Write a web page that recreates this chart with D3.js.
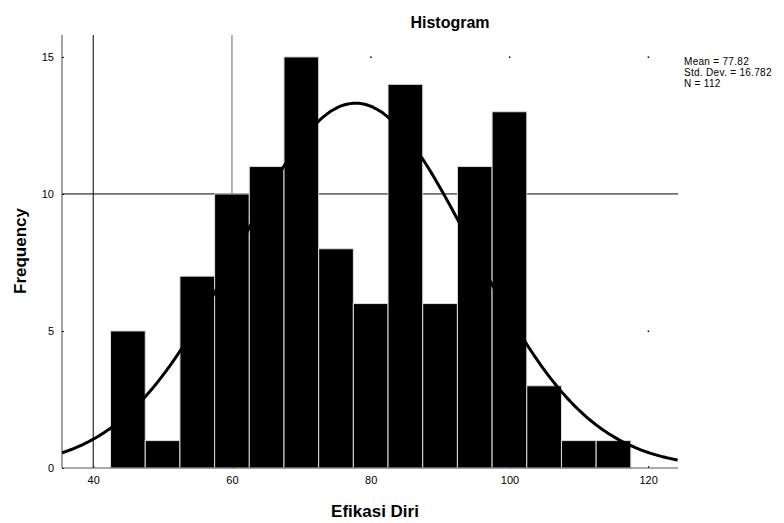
<!DOCTYPE html>
<html lang="en">
<head>
    <meta charset="UTF-8">
    <title>Histogram</title>
    <script src="https://cdn.jsdelivr.net/npm/d3@7/dist/d3.min.js"></script>
    <style>
        body { margin: 0; background: #fff; }
        svg { display: block; font-family: Arial, "Liberation Sans", sans-serif; }
        .tick text { font-size: 11px; fill: #000; }
        .tick line { stroke: #000; }
    </style>
</head>
<body>
<script>
    // bin centres (width 5) and counts
    const binCenters = [45, 50, 55, 60, 65, 70, 75, 80, 85, 90, 95, 100, 105, 110, 115];
    const counts = [5, 1, 7, 10, 11, 15, 8, 6, 14, 6, 11, 13, 3, 1, 1];
    const binWidth = 5;
    const xTicks = [40, 60, 80, 100, 120];
    const yTicks = [0, 5, 10, 15];
    const stats = { mean: 77.82, sd: 16.782, n: 112 };
    const statLines = ['Mean = 77.82', 'Std. Dev. = 16.782', 'N = 112'];

    const width = 784, height = 523;
    const plotL = 62, plotR = 678, plotT = 35, plotB = 468;

    const svg = d3.select('body').append('svg')
        .attr('width', width)
        .attr('height', height);

    const x = d3.scaleLinear().domain([35.5, 124.3]).range([plotL, plotR]);
    const y = d3.scaleLinear().domain([0, 15.8]).range([plotB, plotT]);

    // grid lines (only some are visible in the original)
    svg.append('line')
        .attr('x1', x(40)).attr('x2', x(40))
        .attr('y1', plotT).attr('y2', plotB)
        .attr('stroke', '#000');
    svg.append('line')
        .attr('x1', x(60)).attr('x2', x(60))
        .attr('y1', plotT).attr('y2', plotB)
        .attr('stroke', '#666');
    svg.append('line')
        .attr('x1', plotL).attr('x2', plotR)
        .attr('y1', y(10)).attr('y2', y(10))
        .attr('stroke', '#000');

    // leftover grid dots
    const dots = [];
    [80, 100, 120].forEach(a => [5, 15].forEach(b => dots.push([a, b])));
    svg.append('g').selectAll('rect')
        .data(dots)
        .enter()
        .append('rect')
        .attr('x', d => x(d[0]) - 0.5)
        .attr('y', d => y(d[1]) - 0.5)
        .attr('width', 1.5)
        .attr('height', 1.5)
        .attr('fill', '#000');

    // bars
    svg.append('g')
        .selectAll('rect')
        .data(binCenters)
        .enter()
        .append('rect')
        .attr('x', d => x(d - binWidth / 2))
        .attr('y', (d, i) => y(counts[i]))
        .attr('width', d => x(d + binWidth / 2) - x(d - binWidth / 2))
        .attr('height', (d, i) => plotB - y(counts[i]))
        .attr('fill', '#000')
        .attr('stroke', '#ddd')
        .attr('stroke-width', 1);

    // normal curve from mean / sd
    const scale = stats.n * binWidth / (stats.sd * Math.sqrt(2 * Math.PI));
    const curveX = d3.range(35.5, 124.31, 0.25);
    const line = d3.line()
        .x(d => x(d))
        .y(d => y(scale * Math.exp(-0.5 * Math.pow((d - stats.mean) / stats.sd, 2))))
        .curve(d3.curveBasis);
    svg.append('path')
        .datum(curveX)
        .attr('d', line)
        .attr('fill', 'none')
        .attr('stroke', '#000')
        .attr('stroke-width', 3);

    // axes
    svg.append('g')
        .attr('transform', `translate(0,${plotB})`)
        .call(d3.axisBottom(x).tickValues(xTicks).tickSize(-2).tickPadding(8))
        .call(g => g.select('.domain').remove());
    svg.append('g')
        .attr('transform', `translate(${plotL},0)`)
        .call(d3.axisLeft(y).tickValues(yTicks).tickSize(-2).tickPadding(8))
        .call(g => g.select('.domain').remove());

    svg.append('line')
        .attr('x1', plotL).attr('x2', plotL)
        .attr('y1', plotT).attr('y2', plotB)
        .attr('stroke', '#444');
    svg.append('line')
        .attr('x1', plotL).attr('x2', plotR)
        .attr('y1', plotB).attr('y2', plotB)
        .attr('stroke', '#555');

    // titles
    svg.append('text')
        .attr('x', 450).attr('y', 28)
        .attr('text-anchor', 'middle')
        .attr('font-size', 16).attr('font-weight', 'bold')
        .text('Histogram');
    svg.append('text')
        .attr('x', 375).attr('y', 517)
        .attr('text-anchor', 'middle')
        .attr('font-size', 17).attr('font-weight', 'bold')
        .text('Efikasi Diri');
    svg.append('text')
        .attr('transform', 'translate(26,251) rotate(-90)')
        .attr('text-anchor', 'middle')
        .attr('font-size', 17).attr('font-weight', 'bold')
        .text('Frequency');

    // stats box
    svg.append('g')
        .selectAll('text')
        .data(statLines)
        .enter()
        .append('text')
        .attr('x', 684)
        .attr('y', (d, i) => 65 + i * 11)
        .attr('font-size', 10)
        .attr('letter-spacing', 0.3)
        .text(d => d);
</script>
</body>
</html>
